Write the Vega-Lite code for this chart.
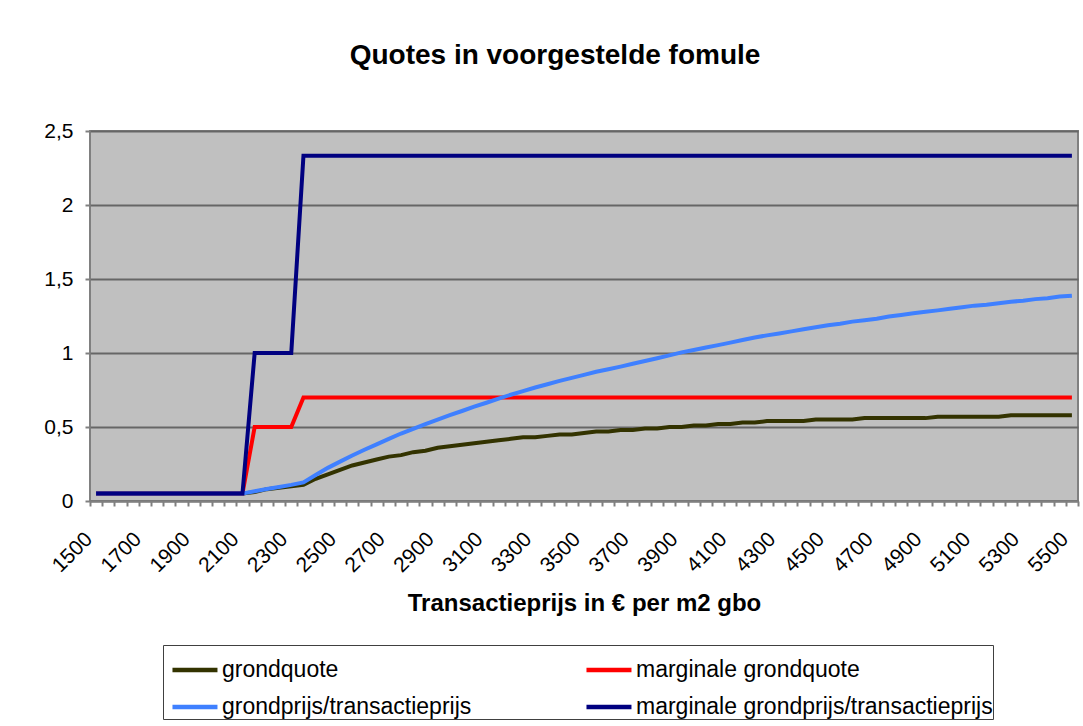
{
  "$schema": "https://vega.github.io/schema/vega-lite/v6.json",
  "autosize": {"type": "none"},
  "width": 988,
  "height": 370,
  "padding": {"left": 90, "top": 131, "right": 5, "bottom": 225},
  "background": "white",
  "title": {"text": "Quotes in voorgestelde fomule", "font": "Liberation Sans", "fontSize": 28, "fontWeight": "bold", "color": "black", "anchor": "middle", "dx": -29, "offset": 50},
  "data": {"values": [
    {"p":1500,"gq":0.05,"mgq":0.05,"gpt":0.05,"mgpt":0.05},
    {"p":1550,"gq":0.05,"mgq":0.05,"gpt":0.05,"mgpt":0.05},
    {"p":1600,"gq":0.05,"mgq":0.05,"gpt":0.05,"mgpt":0.05},
    {"p":1650,"gq":0.05,"mgq":0.05,"gpt":0.05,"mgpt":0.05},
    {"p":1700,"gq":0.05,"mgq":0.05,"gpt":0.05,"mgpt":0.05},
    {"p":1750,"gq":0.05,"mgq":0.05,"gpt":0.05,"mgpt":0.05},
    {"p":1800,"gq":0.05,"mgq":0.05,"gpt":0.05,"mgpt":0.05},
    {"p":1850,"gq":0.05,"mgq":0.05,"gpt":0.05,"mgpt":0.05},
    {"p":1900,"gq":0.05,"mgq":0.05,"gpt":0.05,"mgpt":0.05},
    {"p":1950,"gq":0.05,"mgq":0.05,"gpt":0.05,"mgpt":0.05},
    {"p":2000,"gq":0.05,"mgq":0.05,"gpt":0.05,"mgpt":0.05},
    {"p":2050,"gq":0.05,"mgq":0.05,"gpt":0.05,"mgpt":0.05},
    {"p":2100,"gq":0.05,"mgq":0.05,"gpt":0.05,"mgpt":0.05},
    {"p":2150,"gq":0.06,"mgq":0.5,"gpt":0.066,"mgpt":1.0},
    {"p":2200,"gq":0.08,"mgq":0.5,"gpt":0.081,"mgpt":1.0},
    {"p":2250,"gq":0.09,"mgq":0.5,"gpt":0.095,"mgpt":1.0},
    {"p":2300,"gq":0.10,"mgq":0.5,"gpt":0.109,"mgpt":1.0},
    {"p":2350,"gq":0.11,"mgq":0.7,"gpt":0.126,"mgpt":2.333},
    {"p":2400,"gq":0.15,"mgq":0.7,"gpt":0.176,"mgpt":2.333},
    {"p":2450,"gq":0.18,"mgq":0.7,"gpt":0.224,"mgpt":2.333},
    {"p":2500,"gq":0.21,"mgq":0.7,"gpt":0.266,"mgpt":2.333},
    {"p":2550,"gq":0.24,"mgq":0.7,"gpt":0.307,"mgpt":2.333},
    {"p":2600,"gq":0.26,"mgq":0.7,"gpt":0.346,"mgpt":2.333},
    {"p":2650,"gq":0.28,"mgq":0.7,"gpt":0.383,"mgpt":2.333},
    {"p":2700,"gq":0.30,"mgq":0.7,"gpt":0.420,"mgpt":2.333},
    {"p":2750,"gq":0.31,"mgq":0.7,"gpt":0.456,"mgpt":2.333},
    {"p":2800,"gq":0.33,"mgq":0.7,"gpt":0.488,"mgpt":2.333},
    {"p":2850,"gq":0.34,"mgq":0.7,"gpt":0.520,"mgpt":2.333},
    {"p":2900,"gq":0.36,"mgq":0.7,"gpt":0.550,"mgpt":2.333},
    {"p":2950,"gq":0.37,"mgq":0.7,"gpt":0.580,"mgpt":2.333},
    {"p":3000,"gq":0.38,"mgq":0.7,"gpt":0.608,"mgpt":2.333},
    {"p":3050,"gq":0.39,"mgq":0.7,"gpt":0.637,"mgpt":2.333},
    {"p":3100,"gq":0.40,"mgq":0.7,"gpt":0.664,"mgpt":2.333},
    {"p":3150,"gq":0.41,"mgq":0.7,"gpt":0.692,"mgpt":2.333},
    {"p":3200,"gq":0.42,"mgq":0.7,"gpt":0.718,"mgpt":2.333},
    {"p":3250,"gq":0.43,"mgq":0.7,"gpt":0.742,"mgpt":2.333},
    {"p":3300,"gq":0.43,"mgq":0.7,"gpt":0.767,"mgpt":2.333},
    {"p":3350,"gq":0.44,"mgq":0.7,"gpt":0.789,"mgpt":2.333},
    {"p":3400,"gq":0.45,"mgq":0.7,"gpt":0.812,"mgpt":2.333},
    {"p":3450,"gq":0.45,"mgq":0.7,"gpt":0.832,"mgpt":2.333},
    {"p":3500,"gq":0.46,"mgq":0.7,"gpt":0.852,"mgpt":2.333},
    {"p":3550,"gq":0.47,"mgq":0.7,"gpt":0.873,"mgpt":2.333},
    {"p":3600,"gq":0.47,"mgq":0.7,"gpt":0.890,"mgpt":2.333},
    {"p":3650,"gq":0.48,"mgq":0.7,"gpt":0.908,"mgpt":2.333},
    {"p":3700,"gq":0.48,"mgq":0.7,"gpt":0.927,"mgpt":2.333},
    {"p":3750,"gq":0.49,"mgq":0.7,"gpt":0.946,"mgpt":2.333},
    {"p":3800,"gq":0.49,"mgq":0.7,"gpt":0.965,"mgpt":2.333},
    {"p":3850,"gq":0.50,"mgq":0.7,"gpt":0.984,"mgpt":2.333},
    {"p":3900,"gq":0.50,"mgq":0.7,"gpt":1.004,"mgpt":2.333},
    {"p":3950,"gq":0.51,"mgq":0.7,"gpt":1.020,"mgpt":2.333},
    {"p":4000,"gq":0.51,"mgq":0.7,"gpt":1.037,"mgpt":2.333},
    {"p":4050,"gq":0.52,"mgq":0.7,"gpt":1.053,"mgpt":2.333},
    {"p":4100,"gq":0.52,"mgq":0.7,"gpt":1.070,"mgpt":2.333},
    {"p":4150,"gq":0.53,"mgq":0.7,"gpt":1.088,"mgpt":2.333},
    {"p":4200,"gq":0.53,"mgq":0.7,"gpt":1.105,"mgpt":2.333},
    {"p":4250,"gq":0.54,"mgq":0.7,"gpt":1.119,"mgpt":2.333},
    {"p":4300,"gq":0.54,"mgq":0.7,"gpt":1.132,"mgpt":2.333},
    {"p":4350,"gq":0.54,"mgq":0.7,"gpt":1.146,"mgpt":2.333},
    {"p":4400,"gq":0.54,"mgq":0.7,"gpt":1.160,"mgpt":2.333},
    {"p":4450,"gq":0.55,"mgq":0.7,"gpt":1.174,"mgpt":2.333},
    {"p":4500,"gq":0.55,"mgq":0.7,"gpt":1.188,"mgpt":2.333},
    {"p":4550,"gq":0.55,"mgq":0.7,"gpt":1.198,"mgpt":2.333},
    {"p":4600,"gq":0.55,"mgq":0.7,"gpt":1.212,"mgpt":2.333},
    {"p":4650,"gq":0.56,"mgq":0.7,"gpt":1.222,"mgpt":2.333},
    {"p":4700,"gq":0.56,"mgq":0.7,"gpt":1.232,"mgpt":2.333},
    {"p":4750,"gq":0.56,"mgq":0.7,"gpt":1.247,"mgpt":2.333},
    {"p":4800,"gq":0.56,"mgq":0.7,"gpt":1.257,"mgpt":2.333},
    {"p":4850,"gq":0.56,"mgq":0.7,"gpt":1.268,"mgpt":2.333},
    {"p":4900,"gq":0.56,"mgq":0.7,"gpt":1.278,"mgpt":2.333},
    {"p":4950,"gq":0.57,"mgq":0.7,"gpt":1.288,"mgpt":2.333},
    {"p":5000,"gq":0.57,"mgq":0.7,"gpt":1.299,"mgpt":2.333},
    {"p":5050,"gq":0.57,"mgq":0.7,"gpt":1.309,"mgpt":2.333},
    {"p":5100,"gq":0.57,"mgq":0.7,"gpt":1.320,"mgpt":2.333},
    {"p":5150,"gq":0.57,"mgq":0.7,"gpt":1.326,"mgpt":2.333},
    {"p":5200,"gq":0.57,"mgq":0.7,"gpt":1.336,"mgpt":2.333},
    {"p":5250,"gq":0.58,"mgq":0.7,"gpt":1.347,"mgpt":2.333},
    {"p":5300,"gq":0.58,"mgq":0.7,"gpt":1.353,"mgpt":2.333},
    {"p":5350,"gq":0.58,"mgq":0.7,"gpt":1.364,"mgpt":2.333},
    {"p":5400,"gq":0.58,"mgq":0.7,"gpt":1.370,"mgpt":2.333},
    {"p":5450,"gq":0.58,"mgq":0.7,"gpt":1.381,"mgpt":2.333},
    {"p":5500,"gq":0.58,"mgq":0.7,"gpt":1.387,"mgpt":2.333}
  ]},
  "transform": [{"fold": ["gq", "mgq", "gpt", "mgpt"], "as": ["series", "v"]}],
  "mark": {"type": "line", "strokeWidth": 4, "interpolate": "linear"},
  "encoding": {
    "x": {
      "field": "p", "type": "ordinal", "bandPosition": 0.5,
      "scale": {"type": "band", "paddingInner": 0, "paddingOuter": 0},
      "axis": {
        "labelExpr": "datum.value % 200 == 100 ? datum.label : ''",
        "labelAngle": -45, "labelOverlap": false, "labelFontSize": 21, "labelFont": "Liberation Sans", "labelColor": "black",
        "labelPadding": 22, "labelOffset": -15,
        "tickBand": "extent", "tickSize": 5, "tickWidth": 2, "tickColor": "#808080",
        "domainColor": "#808080", "domainWidth": 2, "grid": false,
        "title": "Transactieprijs in € per m2 gbo", "titleFont": "Liberation Sans", "titleFontSize": 24, "titleFontWeight": "bold", "titleColor": "black", "titlePadding": 16
      }
    },
    "y": {
      "field": "v", "type": "quantitative",
      "scale": {"domain": [0, 2.5], "nice": false},
      "axis": {
        "values": [0, 0.5, 1, 1.5, 2, 2.5],
        "labelExpr": "replace(toString(datum.value), '.', ',')",
        "labelFontSize": 21, "labelFont": "Liberation Sans", "labelColor": "black", "labelPadding": 12,
        "tickSize": 5, "tickWidth": 2, "tickColor": "#808080",
        "domain": false, "grid": true, "gridColor": "#666666", "gridWidth": 2,
        "title": null
      }
    },
    "color": {
      "field": "series", "type": "nominal",
      "scale": {"domain": ["gq", "mgq", "gpt", "mgpt"], "range": ["#333300", "#FF0000", "#3F80FF", "#000080"]},
      "legend": {
        "title": null, "orient": "none", "legendX": 73, "legendY": 514, "columns": 2, "direction": "horizontal",
        "labelExpr": "{'gq':'grondquote','mgq':'marginale grondquote','gpt':'grondprijs/transactieprijs','mgpt':'marginale grondprijs/transactieprijs'}[datum.value]",
        "symbolType": "M-0.69,0L1.31,0", "symbolSize": 2025, "symbolStrokeWidth": 4.5,
        "labelFontSize": 23, "labelFont": "Liberation Sans", "labelColor": "black", "labelLimit": 600, "labelOffset": 9,
        "columnPadding": 105, "rowPadding": -8, "padding": 0,
        "strokeColor": "#404040", "fillColor": "white"
      }
    }
  },
  "config": {
    "view": {"fill": "#C0C0C0", "stroke": "#808080", "strokeWidth": 2}
  }
}
